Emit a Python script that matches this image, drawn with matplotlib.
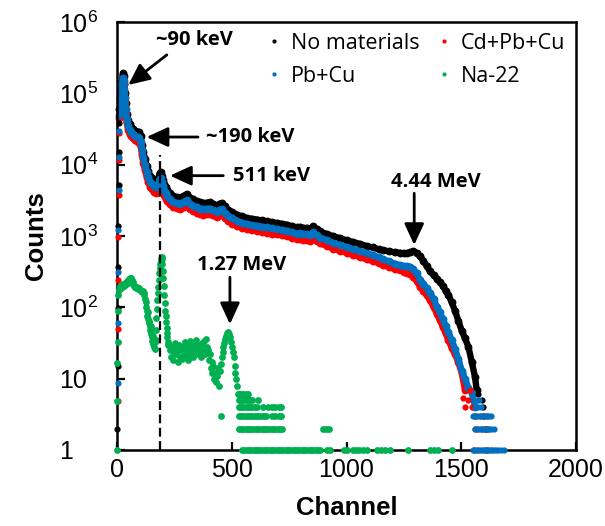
#!/usr/bin/env python
import numpy as np
import matplotlib
matplotlib.use('Agg')
import matplotlib.pyplot as plt
from matplotlib.lines import Line2D

# ---------------- data ----------------
# channels shared by the three background spectra (smooth part)
body_ch = [10, 14, 18, 22, 25, 27, 29, 32, 35, 38,
           42, 48, 55, 62, 70, 80, 90, 97, 103, 109,
           115, 122, 129, 136, 144, 152, 160, 168, 175, 181,
           186, 190, 194, 199, 205, 212, 220, 230, 245, 260,
           275, 290, 304, 318, 332, 347, 362, 376, 390, 405,
           420, 434, 445, 456, 470, 485, 503, 522, 543, 565,
           587, 609, 630, 652, 674, 696, 718, 739, 761, 783,
           797, 812, 827, 841, 855, 870, 885, 915, 943, 972,
           1000, 1030, 1060, 1088, 1115, 1140, 1160, 1185, 1210, 1233,
           1250, 1262, 1276, 1291, 1305, 1320, 1335, 1349, 1364, 1380,
           1395, 1407, 1420, 1432, 1444, 1458, 1473, 1487, 1502, 1516,
           1531, 1546, 1560, 1567]

# No materials (black)
nomat_head_ch = [2, 3, 4, 5, 6, 7, 8, 9]
nomat_head_cnt = [2, 15, 98, 370, 1400, 5200, 15000, 38000]
nomat_cnt = [60000, 85000, 115000, 150000, 180000, 190000, 175000, 135000, 100000, 72000,
             52000, 42000, 37000, 34000, 32000, 30000, 29000, 28500, 25000, 19000,
             15000, 12000, 9600, 8200, 7000, 6400, 6000, 5800, 6000, 6600,
             7600, 7800, 7000, 6000, 5300, 4800, 4400, 4000, 3650, 3500,
             3450, 3650, 3850, 3450, 3250, 3070, 2950, 2900, 2920, 2960,
             2800, 2660, 2800, 2900, 2600, 2340, 2150, 2000, 1880, 1790,
             1740, 1700, 1650, 1610, 1560, 1520, 1480, 1440, 1370, 1320,
             1340, 1290, 1300, 1260, 1370, 1250, 1160, 1060, 990, 930,
             870, 820, 770, 720, 690, 650, 630, 610, 590, 580,
             570, 570, 590, 610, 580, 520, 450, 380, 320, 280,
             250, 226, 200, 170, 150, 118, 89, 65, 47, 37,
             28, 17, 10.5, 7]
nomat_tail_ch = [1575, 1589, 1595, 1600, 1606, 1612]
nomat_tail_cnt = [6, 5, 4, 3, 2, 1]

# Cd+Pb+Cu (red)
cd_head_ch = [3, 4, 5, 6, 7, 8, 9]
cd_head_cnt = [4.9, 50, 240, 980, 3800, 11500, 28000]
cd_cnt = [45000, 65000, 88000, 115000, 140000, 150000, 135000, 100000, 75000, 53000,
          39000, 31000, 27000, 25000, 23500, 22000, 21000, 20500, 18000, 13500,
          10500, 8400, 6800, 5700, 4900, 4500, 4200, 4050, 4200, 4600,
          5300, 5500, 4900, 4200, 3700, 3350, 3050, 2800, 2550, 2450,
          2400, 2550, 2650, 2400, 2250, 2130, 2050, 2000, 2020, 2040,
          1940, 1840, 1940, 2000, 1800, 1620, 1490, 1390, 1300, 1240,
          1200, 1170, 1140, 1110, 1080, 1050, 1020, 990, 950, 910,
          920, 890, 890, 860, 930, 850, 790, 720, 665, 620,
          580, 540, 505, 470, 445, 415, 390, 365, 345, 330,
          315, 305, 290, 265, 235, 195, 170, 148, 126, 100,
          80, 66, 53, 43, 35, 27, 22, 17, 12, 7]
cd_tail_ch = [1508, 1516, 1530, 1538, 1545, 1555, 1565, 1580, 1595, 1612,
              1560, 1575, 1590, 1605, 1617, 1555, 1570, 1600, 1630]
cd_tail_cnt = [5.4, 4, 5, 7, 4, 3, 3, 3, 3, 3,
               2, 2, 2, 2, 2, 1, 1, 1, 1]

# Pb+Cu (blue)
pb_head_ch = [3, 4, 5, 6, 7, 8, 9]
pb_head_cnt = [8.8, 60, 314, 1200, 4400, 13000, 30000]
pb_cnt = [50000, 72000, 97000, 128000, 155000, 165000, 150000, 115000, 85000, 60000,
          44000, 35000, 31000, 28500, 27000, 25500, 24500, 24000, 21000, 16000,
          12500, 10000, 8000, 6800, 5800, 5300, 5000, 4800, 5000, 5500,
          6300, 6500, 5800, 5000, 4400, 4000, 3650, 3300, 3000, 2900,
          2850, 3000, 3150, 2850, 2650, 2520, 2420, 2380, 2400, 2420,
          2300, 2180, 2300, 2380, 2130, 1920, 1760, 1640, 1540, 1470,
          1420, 1390, 1350, 1320, 1280, 1250, 1210, 1180, 1120, 1080,
          1100, 1060, 1060, 1030, 1120, 1020, 950, 870, 800, 750,
          700, 650, 610, 570, 540, 500, 470, 440, 410, 390,
          380, 375, 370, 340, 300, 245, 215, 185, 160, 130,
          100, 85, 68, 55, 45, 35, 26, 19, 13, 10,
          7.5, 6.3, 4]
pb_tail_ch = [1555, 1568, 1578, 1562, 1575, 1585,
              1551, 1560, 1570, 1580, 1590, 1600, 1610, 1620, 1630,
              1560, 1570, 1580, 1590, 1600, 1610, 1620, 1630, 1642,
              1552, 1562, 1572, 1582, 1592, 1602, 1612, 1622, 1632, 1642, 1652, 1662, 1675, 1686]
pb_tail_cnt = [5, 5, 5, 4, 4, 4,
               3, 3, 3, 3, 3, 3, 3, 3, 3,
               2, 2, 2, 2, 2, 2, 2, 2, 2,
               1, 1, 1, 1, 1, 1, 1, 1, 1, 1, 1, 1, 1, 1]

# Na-22 (green)
na_ch = [0, 1, 2, 3, 4,
         5, 8, 11, 14, 17, 20, 23, 26, 29, 32, 35, 38, 41, 44, 47, 50, 53, 56, 59, 62,
         65, 68, 71, 74, 77, 80, 84, 88, 92, 96, 100, 104, 108, 112, 116, 119, 122, 125,
         128, 130, 132, 134, 136, 138, 140, 142, 144, 146, 148, 150, 152, 154, 156, 158,
         160, 162, 164, 166, 168, 170, 172, 174, 176, 178, 180, 182, 184, 186, 188, 190,
         192, 194, 196, 198, 200, 202, 204, 206, 208, 210, 212, 214, 216, 218, 220, 222,
         224, 228, 232, 236, 240, 244, 248, 252, 256, 260, 264, 268, 272, 276, 280, 284,
         288, 292, 296, 300, 304, 308, 312, 316, 320, 324, 328, 332, 336, 340, 344, 348,
         352, 356, 360, 364, 368, 372, 376, 380, 384, 388, 392, 396, 400, 404, 408, 412,
         416, 420, 424, 428, 432, 436, 440, 444, 448, 452, 456, 460, 464, 468, 472, 476,
         480, 484, 488, 492, 496, 500, 504, 508, 512, 516, 520, 524, 528]
na_cnt = [1, 4.9, 16.7, 33, 88,
          150, 175, 190, 200, 185, 205, 195, 210, 200, 215, 205, 225, 215, 230, 220, 240, 250, 255, 245, 260,
          240, 225, 210, 200, 190, 195, 185, 190, 180, 185, 175, 170, 165, 170, 160, 150, 130, 120,
          100, 90, 75, 85, 68, 60, 65, 55, 48, 55, 42, 46, 38, 34, 40, 31,
          36, 28, 33, 26, 35, 48, 70, 95, 125, 160, 190, 240, 300, 360, 410, 450,
          490, 510, 480, 400, 320, 260, 200, 150, 115, 90, 75, 62, 52, 44, 38, 33,
          30, 30, 25, 20, 28, 18, 24, 32, 22, 27, 17, 25, 30, 20, 26, 19,
          28, 23, 33, 21, 26, 18, 29, 24, 34, 22, 27, 20, 30, 25, 35, 26,
          22, 30, 24, 28, 20, 32, 26, 34, 22, 36, 28, 25, 18, 22, 14, 17,
          12, 15, 10, 12, 9, 11, 14, 8, 13, 16, 20, 24, 28, 32, 36, 40,
          44, 45, 42, 38, 33, 28, 24, 20, 15, 12, 10, 8, 6]
na_t6_ch = [530, 540, 550, 560, 570]
na_t5_ch = [530, 540, 550, 560, 570, 580, 590, 615]
na_t4_ch = [530, 540, 550, 560, 570, 580, 590, 600, 610, 636, 660, 675, 690, 705, 715]
na_t3_ch = [453, 530, 540, 550, 560, 570, 580, 590, 600, 610, 620, 630, 640, 650, 675, 690, 705, 715]
na_t2_ch = [530, 540, 550, 560, 570, 580, 590, 600, 610, 620, 630, 640, 650, 660, 670,
            680, 690, 700, 710, 720, 898, 910, 925]
na_t1_ch = [545, 555, 565, 575, 585, 595, 605, 615, 625, 635, 645, 655, 665, 675, 685,
            695, 705, 715, 725, 735, 745, 755, 765, 775, 785, 795, 805, 815, 825, 835,
            845, 855, 865, 875, 885, 915, 928, 990, 1000, 1028, 1040, 1055, 1070, 1089,
            1135, 1150, 1168, 1190, 1268, 1364, 1380, 1399, 1460]

# ---------------- figure ----------------
plt.rcParams['font.family'] = ['Liberation Sans', 'DejaVu Sans']
plt.rcParams['mathtext.default'] = 'regular'

fig = plt.figure(figsize=(6.05, 5.26), dpi=100)
ax = fig.add_axes([0.1934, 0.1445, 0.7587, 0.8137])

C_BLK = '#000000'
C_RED = '#FF0000'
C_BLU = '#0070C0'
C_GRN = '#00B050'
S = 20       # marker area (pt^2)
LW = 4.6     # band width for the dense part of a spectrum


def spectrum(head_ch, head_cnt, cnt, tail_ch, tail_cnt, color, z):
    ch = body_ch[:len(cnt)]
    ax.plot(ch, cnt, '-', color=color, lw=LW, solid_capstyle='round',
            solid_joinstyle='round', zorder=2)
    ax.scatter(ch, cnt, s=S * 1.6, color=color, lw=0, zorder=2, clip_on=False)
    # points sitting on the spines are drawn above them
    ax.scatter(head_ch, head_cnt, s=S, color=color, lw=0, zorder=z, clip_on=False)
    ax.scatter(tail_ch, tail_cnt, s=S, color=color, lw=0, zorder=z, clip_on=False)


spectrum(nomat_head_ch, nomat_head_cnt, nomat_cnt, nomat_tail_ch, nomat_tail_cnt, C_BLK, 3.0)
spectrum(cd_head_ch, cd_head_cnt, cd_cnt, cd_tail_ch, cd_tail_cnt, C_RED, 3.1)
spectrum(pb_head_ch, pb_head_cnt, pb_cnt, pb_tail_ch, pb_tail_cnt, C_BLU, 3.2)

ax.scatter(na_ch, na_cnt, s=S * 1.2, color=C_GRN, lw=0, zorder=3.3, clip_on=False)
for lvl, chs in ((6, na_t6_ch), (5, na_t5_ch), (4, na_t4_ch),
                 (3, na_t3_ch), (2, na_t2_ch), (1, na_t1_ch)):
    ax.scatter(chs, [lvl] * len(chs), s=S * 1.2, color=C_GRN, lw=0, zorder=3.3, clip_on=False)

# dashed marker at 511 keV
ax.plot([187, 187], [1, 13700], color='k', lw=1.6, ls=(0, (4, 2)), zorder=4)

# ---------------- annotations ----------------
afont = dict(family='Open Sans', weight='bold', size=14.5)
aprops = dict(arrowstyle='-|>,head_length=0.65,head_width=0.3', lw=2, color='k',
              mutation_scale=20, shrinkA=0, shrinkB=0)


def note(text, txy, tail, tip):
    ax.annotate('', xy=tip, xytext=tail, arrowprops=aprops, zorder=5)
    ax.text(txy[0], txy[1], text, ha='center', va='center', zorder=5, **afont)


note('~90 keV', (337, 5.6e5), (217, 3.46e5), (49, 1.31e5))
note('~190 keV', (582, 24400), (353, 24400), (129, 24400))
note('511 keV', (675, 7010), (463, 7010), (231, 7010))
note('4.44 MeV', (1389, 5770), (1295, 3970), (1295, 748))
note('1.27 MeV', (545, 392), (492, 264), (492, 58))

# ---------------- axes ----------------
ax.set_yscale('log')
ax.set_xlim(0, 2000)
ax.set_ylim(1, 1e6)
ax.set_xticks([0, 500, 1000, 1500, 2000])
ax.set_yticks([1, 10, 100, 1e3, 1e4, 1e5, 1e6])
ax.set_yticklabels(['1', '10', '$10^{2}$', '$10^{3}$', '$10^{4}$', '$10^{5}$', '$10^{6}$'])
ax.yaxis.set_minor_locator(matplotlib.ticker.NullLocator())
ax.tick_params(axis='both', which='major', direction='in', length=6, width=1.6,
               labelsize=18, top=False, right=False)
ax.tick_params(axis='x', pad=6)
ax.tick_params(axis='y', pad=42)
for lab in ax.get_yticklabels():
    lab.set_horizontalalignment('left')
for sp in ax.spines.values():
    sp.set_linewidth(1.8)

ax.set_xlabel('Channel', fontsize=18.5, fontweight='bold', labelpad=10)
ax.set_ylabel('Counts', fontsize=18.5, fontweight='bold', labelpad=8)

# ---------------- legend ----------------
handles = [Line2D([], [], ls='none', marker='o', ms=3, color=c, mec='none')
           for c in (C_BLK, C_BLU, C_RED, C_GRN)]
labels = ['No materials', 'Pb+Cu', 'Cd+Pb+Cu', 'Na-22']
ax.legend(handles, labels, ncol=2, loc='upper right', bbox_to_anchor=(1.0, 1.0),
          frameon=False, prop=dict(family='Open Sans', size=15.5),
          handlelength=0.6, handletextpad=0.5, columnspacing=0.8,
          labelspacing=0.55, borderaxespad=0.1)

fig.savefig('out.png', dpi=100)
